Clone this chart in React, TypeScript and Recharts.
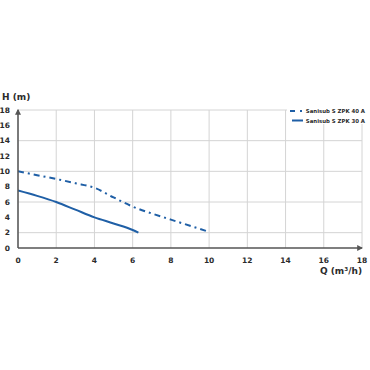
import React from 'react';
import { LineChart, Line, XAxis, YAxis, CartesianGrid } from 'recharts';

const seriesNames = ['Sanisub S ZPK 40 A', 'Sanisub S ZPK 30 A'];
const q40 = [0, 1, 2, 3, 4, 5, 6, 7, 8, 9, 10];
const h40 = [10, 9.5, 9.0, 8.45, 7.85, 6.6, 5.4, 4.5, 3.7, 2.9, 2.1];
const q30 = [0, 1, 2, 3, 4, 5, 6, 6.3];
const h30 = [7.5, 6.8, 6.0, 5.0, 4.0, 3.2, 2.35, 2.0];
const xTicks = [0, 2, 4, 6, 8, 10, 12, 14, 16, 18];
const yTicks = [0, 2, 4, 6, 8, 10, 12, 14, 16, 18];

const data40 = q40.map((q, i) => ({ q, h: h40[i] }));
const data30 = q30.map((q, i) => ({ q, h: h30[i] }));

const COLOR = '#1f5fa6';
const FONT = '"DejaVu Sans", sans-serif';
const tickStyle = { fontSize: 7.5, fontWeight: 700, fill: '#2b2b2b', fontFamily: FONT };

export default function App() {
  return (
    <div style={{ position: 'absolute', left: 0, top: 0, width: 370, height: 370, background: '#fff' }}>
      <LineChart width={370} height={370} margin={{ top: 110, right: 8, bottom: 92, left: 0 }}>
        <defs>
          <marker id="arrowHead" viewBox="0 0 10 10" refX="8" refY="5" markerWidth="4" markerHeight="4" orient="auto-start-reverse">
            <path d="M0,0 L10,5 L0,10 z" fill="#555" />
          </marker>
        </defs>
        <CartesianGrid stroke="#d4d4d4" strokeWidth={1} horizontalValues={yTicks} verticalValues={xTicks} />
        <XAxis
          type="number"
          dataKey="q"
          domain={[0, 18]}
          ticks={xTicks}
          height={30}
          tickLine={false}
          tickSize={0}
          tickMargin={10}
          tick={tickStyle}
          axisLine={{ stroke: '#555', strokeWidth: 1.5, markerEnd: 'url(#arrowHead)' } as any}
          allowDataOverflow
        />
        <YAxis
          type="number"
          domain={[0, 18]}
          ticks={yTicks}
          width={18}
          tickLine={false}
          tickSize={0}
          tickMargin={8}
          tick={tickStyle}
          axisLine={{ stroke: '#555', strokeWidth: 1.5, markerStart: 'url(#arrowHead)' } as any}
        />
        <Line data={data40} dataKey="h" name={seriesNames[0]} type="monotone" stroke={COLOR} strokeWidth={2} strokeDasharray="6 4 2 4" dot={false} isAnimationActive={false} />
        <Line data={data30} dataKey="h" name={seriesNames[1]} type="monotone" stroke={COLOR} strokeWidth={2} dot={false} isAnimationActive={false} />
        <g>
          <rect x={287} y={104} width={83} height={20} fill="#fff" />
          <line x1={290} y1={111} x2={302} y2={111} stroke={COLOR} strokeWidth={2} strokeDasharray="5 5 2 10" />
          <text x={365} y={113} textAnchor="end" fontSize={5.4} fontWeight={700} fill="#2b2b2b" fontFamily={FONT}>{seriesNames[0]}</text>
          <line x1={292} y1={120.5} x2={303} y2={120.5} stroke={COLOR} strokeWidth={2} />
          <text x={365} y={122.5} textAnchor="end" fontSize={5.4} fontWeight={700} fill="#2b2b2b" fontFamily={FONT}>{seriesNames[1]}</text>
        </g>
        <text x={2} y={100} fontSize={9} fontWeight={700} fill="#2b2b2b" fontFamily={FONT}>H (m)</text>
        <text x={362} y={274} textAnchor="end" fontSize={9} fontWeight={700} fill="#2b2b2b" fontFamily={FONT}>Q (m³/h)</text>
      </LineChart>
    </div>
  );
}
